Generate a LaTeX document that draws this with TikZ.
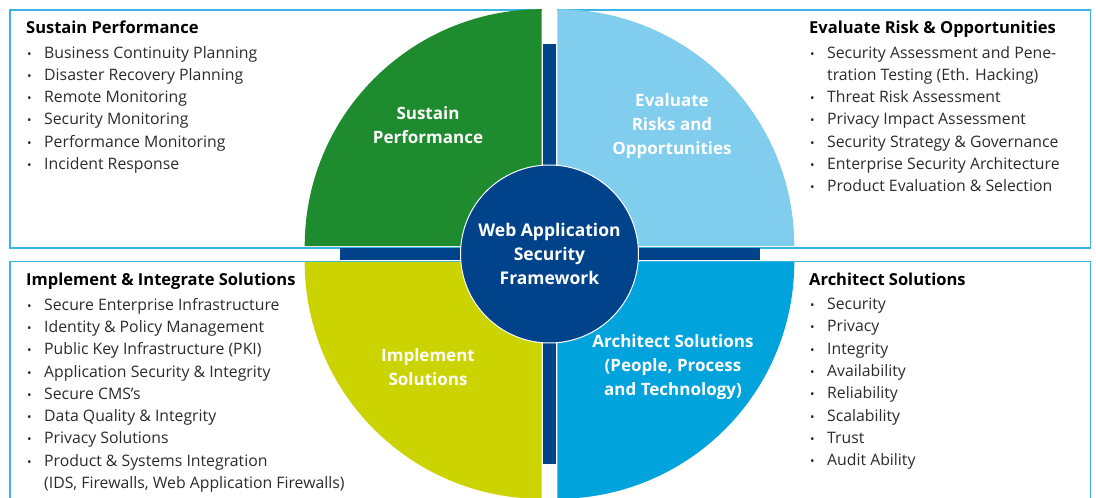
\documentclass[tikz,border=0pt]{standalone}
\usepackage{fontspec}
\setmainfont{Open Sans}
\usetikzlibrary{positioning}
\definecolor{sustaingreen}{HTML}{1E8B2E}
\definecolor{evalblue}{HTML}{80CDEE}
\definecolor{implyellow}{HTML}{CBD300}
\definecolor{archblue}{HTML}{00A3DC}
\definecolor{navy}{HTML}{00438A}
\definecolor{framecyan}{HTML}{3AB4E4}
\definecolor{textgray}{HTML}{2B2B2B}
\newcommand{\blt}{\makebox[18pt][l]{\hspace{1pt}{\fontsize{12}{12}\selectfont\textbullet}}}
\newcommand{\cont}{\hspace*{18pt}}

\begin{document}
\begin{tikzpicture}
[ x=1pt, y=1pt
, frame/.style={draw=framecyan, line width=1.1pt}
, bar/.style={fill=navy}
, sectortext/.style={align=center, text=white, inner sep=0pt, font=\bfseries\fontsize{17}{24}\selectfont}
, heading/.style={anchor=west, inner sep=0pt, text height=12pt, text depth=4.3pt, font=\bfseries\fontsize{16.5}{18}\selectfont}
, items/.style={align=left, inner sep=0pt, text=textgray, font=\fontsize{15.8}{22.3}\selectfont}
]
\path[use as bounding box, clip] (0,0) rectangle (1096,498);
\coordinate (hub) at (549.5,244);
% Frames behind the quarters:
\draw[frame] (541.7,488) -- (10,488) -- (10,250) -- (541.7,250);
\draw[frame] (557.3,488) -- (1090.5,488) -- (1090.5,250) -- (557.3,250);
\draw[frame] (541.7,236.5) -- (10,236.5) -- (10,-5);
\draw[frame] (557.3,236.5) -- (1090.5,236.5) -- (1090.5,-5);
% Quarters:
\fill[sustaingreen] ([shift={(-7.8,7.8)}]hub) -- ++(0,237) arc[start angle=90, end angle=180, radius=237] -- cycle;
\fill[evalblue] ([shift={(7.8,7.8)}]hub) -- ++(0,237) arc[start angle=90, end angle=0, radius=237] -- cycle;
\fill[implyellow] ([shift={(-7.8,-7.8)}]hub) -- ++(0,-237) arc[start angle=270, end angle=180, radius=237] -- cycle;
\fill[archblue] ([shift={(7.8,-7.8)}]hub) -- ++(0,-237) arc[start angle=270, end angle=360, radius=237] -- cycle;
% Cross bars and core:
\fill[bar] ([shift={(-6.3,-210)}]hub) rectangle ([shift={(6.3,210)}]hub);
\fill[bar] ([shift={(-210,-6.3)}]hub) rectangle ([shift={(210,6.3)}]hub);
\node (core) [circle, fill=navy, draw=white, line width=1pt, minimum size=178pt, sectortext, font=\bfseries\fontsize{17.5}{24}\selectfont] at (hub) {Web Application\\Security\\Framework};
% Quarter titles:
\node (sustain) [sectortext] at (428,372.5) {Sustain\\Performance};
\node (evaluate) [sectortext] at (672,372) {Evaluate\\Risks and\\Opportunities};
\node (implement) [sectortext] at (428,131) {Implement\\Solutions};
\node (architect) [sectortext] at (673,131) {Architect Solutions\\(People, Process\\and Technology)};
% Top left list:
\node (sushead) [heading] at (26,468) {Sustain Performance};
\node (suslist) [items, below=7.5pt of sushead.south west, anchor=north west]
  {\blt Business Continuity Planning\\
   \blt Disaster Recovery Planning\\
   \blt Remote Monitoring\\
   \blt Security Monitoring\\
   \blt Performance Monitoring\\
   \blt Incident Response};
% Top right list:
\node (evalhead) [heading] at (809,468) {Evaluate Risk \& Opportunities};
\node (evallist) [items, below=7.5pt of evalhead.south west, anchor=north west]
  {\blt Security Assessment and Pene-\\
   \cont tration Testing (Eth. Hacking)\\
   \blt Threat Risk Assessment\\
   \blt Privacy Impact Assessment\\
   \blt Security Strategy \& Governance\\
   \blt Enterprise Security Architecture\\
   \blt Product Evaluation \& Selection};
% Bottom left list:
\node (implhead) [heading] at (26,216) {Implement \& Integrate Solutions};
\node (impllist) [items, below=7.5pt of implhead.south west, anchor=north west]
  {\blt Secure Enterprise Infrastructure\\
   \blt Identity \& Policy Management\\
   \blt Public Key Infrastructure (PKI)\\
   \blt Application Security \& Integrity\\
   \blt Secure CMS’s\\
   \blt Data Quality \& Integrity\\
   \blt Privacy Solutions\\
   \blt Product \& Systems Integration\\
   \cont (IDS, Firewalls, Web Application Firewalls)};
% Bottom right list:
\node (archhead) [heading] at (809,216) {Architect Solutions};
\node (archlist) [items, below=7.5pt of archhead.south west, anchor=north west]
  {\blt Security\\
   \blt Privacy\\
   \blt Integrity\\
   \blt Availability\\
   \blt Reliability\\
   \blt Scalability\\
   \blt Trust\\
   \blt Audit Ability};
\end{tikzpicture}
\end{document}
